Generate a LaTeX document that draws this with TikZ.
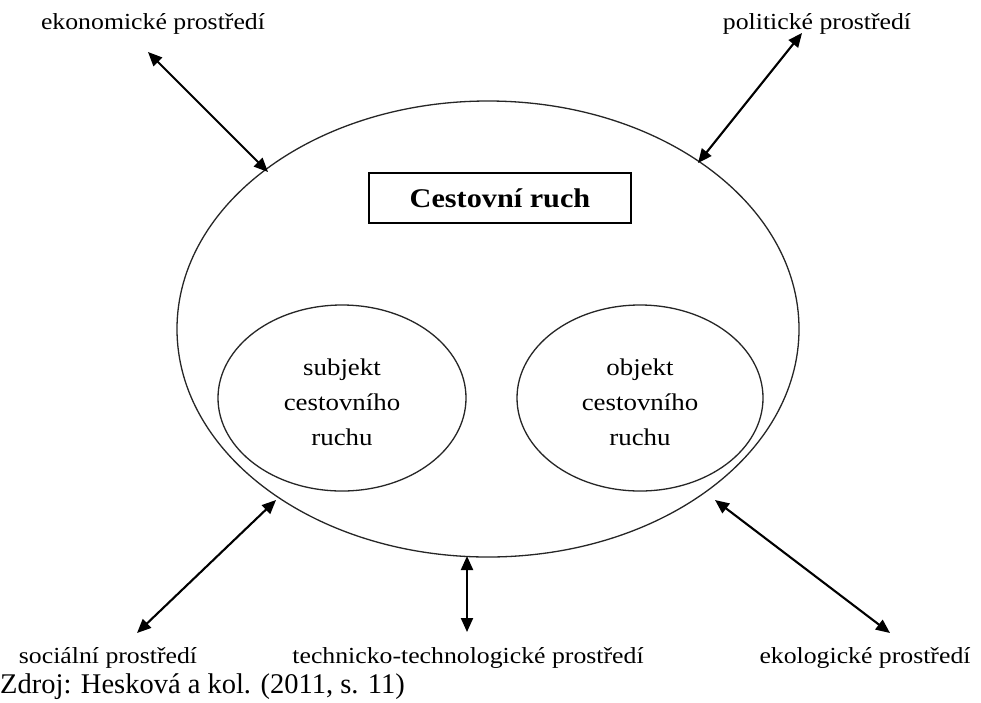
\documentclass[tikz,border=0pt]{standalone}
\usepackage{fontspec}
\setmainfont{Liberation Serif}
\newfontfamily\lblfont{Liberation Serif}[FakeStretch=1.12]
\usetikzlibrary{shapes.geometric,arrows.meta}
\begin{document}
\begin{tikzpicture}[x=1pt,y=-1pt,
  lbl/.style={font=\lblfont\fontsize{23}{27}\selectfont, inner sep=0pt, anchor=base},
  oval/.style={draw=black!85, ellipse, line width=1.3pt, inner sep=0pt},
  inner/.style={font=\lblfont\fontsize{24}{35}\selectfont, align=center},
  link/.style={line width=2.1pt, {Triangle[length=14pt,width=12pt]}-{Triangle[length=14pt,width=12pt]}}
]
\useasboundingbox (0,0) rectangle (981,702);
\fill[white] (0,0) rectangle (981,702);
% main ellipse and circles
\node[oval, minimum width=622pt, minimum height=456pt] (E) at (488,329) {};
\node[oval, minimum width=248pt, minimum height=186pt] (S) at (342,398) {};
\node[oval, minimum width=246pt, minimum height=186pt] (O) at (640,398) {};
\node[inner] (St) at (342,402) {subjekt\\cestovního\\ruchu};
\node[inner] (Ot) at (640,402) {objekt\\cestovního\\ruchu};
% box
\node[draw, line width=2pt, minimum width=262pt, minimum height=50pt, inner sep=0pt,
  font=\lblfont\bfseries\fontsize{27}{30}\selectfont] (B) at (500,198) {Cestovní ruch};
% labels
\node[lbl] (ek) at (153,29) {ekonomické prostředí};
\node[lbl] (po) at (817,29) {politické prostředí};
\node[lbl] (so) at (108,663) {sociální prostředí};
\node[lbl] (te) at (468,663) {technicko-technologické prostředí};
\node[lbl] (eo) at (865,663) {ekologické prostředí};
\node[font=\fontsize{28.5}{32}\selectfont, inner sep=0pt, anchor=base west] (zd) at (0,693) {Zdroj: Hesková a kol. (2011, s. 11)};
% arrow endpoints
\coordinate (ek1) at (148,52);  \coordinate (ek2) at (268,172);
\coordinate (po1) at (802,33);  \coordinate (po2) at (698,163);
\coordinate (so1) at (137,633); \coordinate (so2) at (276,500);
\coordinate (te1) at (467,556); \coordinate (te2) at (467,632);
\coordinate (eo1) at (890,633); \coordinate (eo2) at (715,500);
\draw[link] (ek1) -- (ek2);
\draw[link] (po1) -- (po2);
\draw[link] (so1) -- (so2);
\draw[link] (te1) -- (te2);
\draw[link] (eo1) -- (eo2);
\end{tikzpicture}
\end{document}
